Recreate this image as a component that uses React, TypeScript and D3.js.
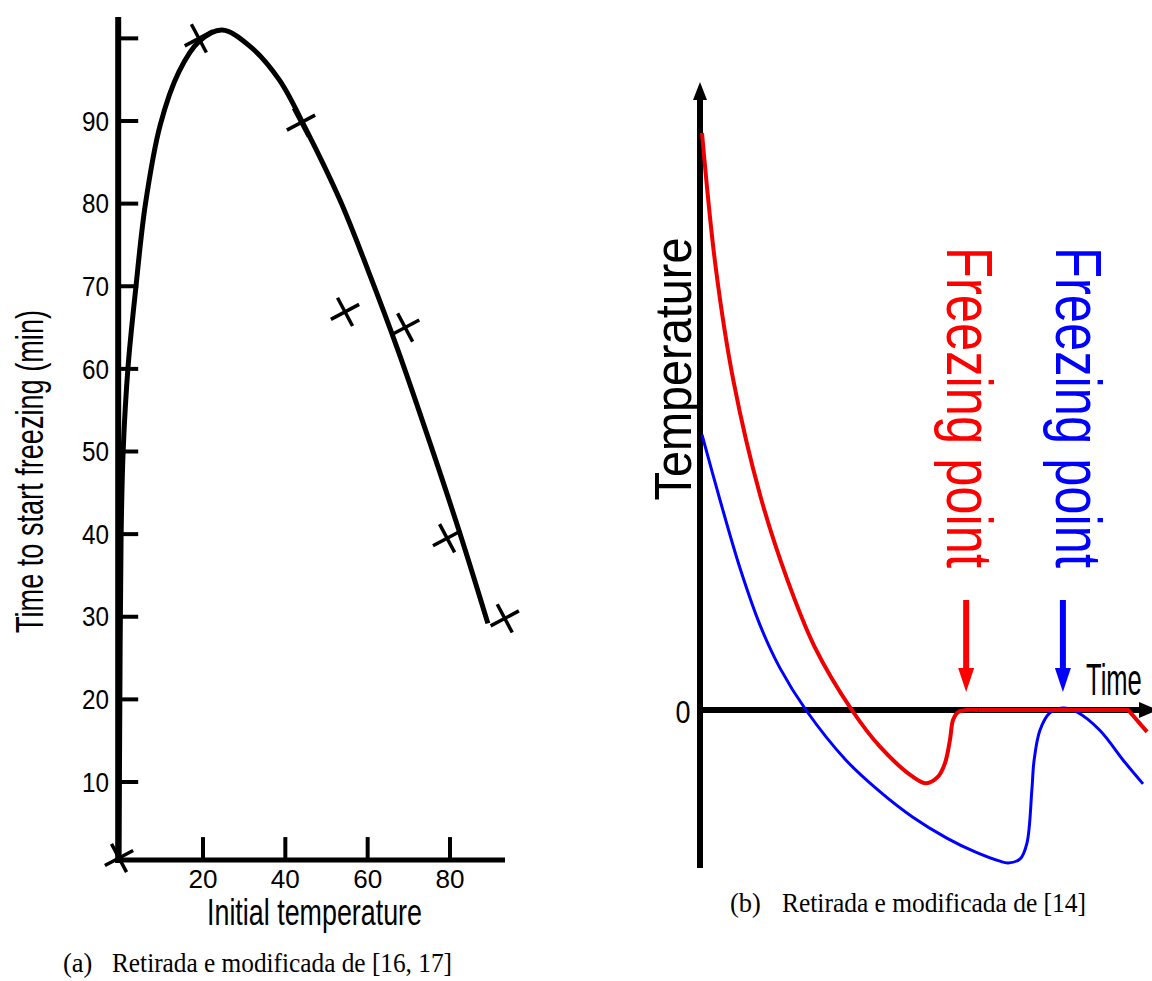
import React from "react";
import * as d3 from "d3";

// ---------- Panel (a) data ----------
const yTicksA = [10, 20, 30, 40, 50, 60, 70, 80, 90, 100];
const yTickLabelsA = ["10", "20", "30", "40", "50", "60", "70", "80", "90", ""];
const xTicksA = [20, 40, 60, 80];
const xTickLabelsA = ["20", "40", "60", "80"];

// fitted curve: initial temperature vs time to start freezing
const fitTemp = [-0.4, -0.2, 0.1, 0.6, 1.8, 3.7, 6.0, 9.6, 14.2, 19.0, 24.6, 31.5, 38.5, 44.75, 53.27, 60.07, 67.35, 75.13, 82.4, 89.2];
const fitTime = [0.6, 20.0, 39.6, 50.0, 60.3, 69.9, 79.9, 89.5, 96.0, 99.6, 101.0, 99.0, 95.0, 89.26, 80.43, 71.96, 62.28, 51.04, 40.1, 29.2];

// observed points (crosses)
const obsTemp = [-0.4, 19.0, 43.8, 54.5, 69.1, 79.3, 93.3];
const obsTime = [0.8, 100.0, 89.8, 66.9, 65.0, 39.5, 29.8];

// ---------- Panel (b) data ----------
const redTime = [0, 3, 7, 13, 19, 25, 33.3, 39.6, 46.9, 49.8, 52.4, 54.0, 55.1, 55.8, 56.9, 58.7, 61.5];
const redTemp = [100, 77, 57, 37, 22.5, 11, 0, -6.4, -11.6, -12.7, -11.6, -9.2, -5.2, -1.7, -0.35, 0, 0];
const redTailTime = [61.5, 94.7, 98.9];
const redTailTemp = [0, 0, -3.8];

const blueTime = [0, 4.0, 8.44, 12.9, 17.3, 23.1, 32.0, 39.6, 46.7, 54.4, 60.7, 66.2, 68.0, 70.7, 72.2, 73.3, 73.8, 75.1, 77.3, 80.2, 83.3, 88.4, 93.6, 98.0];
const blueTemp = [47.7, 36.4, 24.6, 14.7, 7.3, 0, -8.7, -14.2, -18.5, -22.2, -24.6, -26.2, -26.5, -25.8, -23.1, -13.9, -8.7, -3.5, -0.5, 0.35, -0.35, -3.5, -8.7, -12.8];

const freezeTimes = [58.7, 80.2];
const freezeColors = ["#ff0000", "#0000ff"];
const freezeLabels = ["Freezing point", "Freezing point"];
const freezeLabelShift = [-19, -7];

const SANS = "'Liberation Sans', Arial, Helvetica, sans-serif";
const SERIF = "'Liberation Serif', 'Times New Roman', serif";

export default function App() {
  // Panel (a) scales
  const xA = d3.scaleLinear().domain([20, 80]).range([203, 450]);
  const yA = d3.scaleLinear().domain([10, 90]).range([782, 121]);
  const axisX0 = -0.6; // where y axis sits
  const axisY0 = 0.55; // where x axis sits

  const fitPts: [number, number][] = fitTemp.map((t, i) => [t, fitTime[i]]);
  const lineA = d3
    .line<[number, number]>()
    .x((d) => xA(d[0]))
    .y((d) => yA(d[1]))
    .curve(d3.curveCatmullRom.alpha(0.5));

  // Panel (b) scales
  const xB = d3.scaleLinear().domain([0, 100]).range([702, 1152]);
  const yB = d3.scaleLinear().domain([0, 100]).range([710, 133]);
  const lineB = d3
    .line<[number, number]>()
    .x((d) => xB(d[0]))
    .y((d) => yB(d[1]))
    .curve(d3.curveCatmullRom.alpha(0.5));
  const lineBStraight = d3
    .line<[number, number]>()
    .x((d) => xB(d[0]))
    .y((d) => yB(d[1]));
  const redPts: [number, number][] = redTime.map((t, i) => [t, redTemp[i]]);
  const redTail: [number, number][] = redTailTime.map((t, i) => [t, redTailTemp[i]]);
  const bluePts: [number, number][] = blueTime.map((t, i) => [t, blueTemp[i]]);

  const yAxisBX = 700;
  const zeroY = yB(0);

  const crossArm = 16;
  const ang1 = (-28 * Math.PI) / 180;
  const ang2 = (62 * Math.PI) / 180;

  return (
    <svg
      width={1152}
      height={981}
      viewBox="0 0 1152 981"
      style={{ position: "absolute", left: 0, top: 0, background: "#fff" }}
    >
      <rect x={0} y={0} width={1152} height={981} fill="#fff" />

      {/* ================= Panel (a) ================= */}
      <line x1={xA(axisX0)} x2={xA(axisX0)} y1={17} y2={yA(axisY0) + 3} stroke="#000" strokeWidth={6} />
      <line x1={xA(axisX0) - 3} x2={505} y1={yA(axisY0)} y2={yA(axisY0)} stroke="#000" strokeWidth={5} />

      {yTicksA.map((v, i) => (
        <g key={"yt" + v}>
          <line x1={xA(axisX0)} x2={xA(axisX0) + 20} y1={yA(v)} y2={yA(v)} stroke="#000" strokeWidth={4} />
          {yTickLabelsA[i] && (
            <text
              x={109}
              y={yA(v)}
              dy="0.36em"
              textAnchor="end"
              fontFamily={SANS}
              fontSize={27}
              textLength={27}
              lengthAdjust="spacingAndGlyphs"
            >
              {yTickLabelsA[i]}
            </text>
          )}
        </g>
      ))}
      {xTicksA.map((v, i) => (
        <g key={"xt" + v}>
          <line x1={xA(v)} x2={xA(v)} y1={yA(axisY0)} y2={yA(axisY0) - 23} stroke="#000" strokeWidth={4} />
          <text
            x={xA(v)}
            y={888}
            textAnchor="middle"
            fontFamily={SANS}
            fontSize={26}
            textLength={29}
            lengthAdjust="spacingAndGlyphs"
          >
            {xTickLabelsA[i]}
          </text>
        </g>
      ))}

      <path d={lineA(fitPts) || ""} fill="none" stroke="#000" strokeWidth={5} />

      {obsTemp.map((t, i) => {
        const cx = xA(t);
        const cy = yA(obsTime[i]);
        return (
          <g key={"m" + i} stroke="#000" strokeWidth={3.5}>
            <line
              x1={cx - crossArm * Math.cos(ang1)}
              y1={cy - crossArm * Math.sin(ang1)}
              x2={cx + crossArm * Math.cos(ang1)}
              y2={cy + crossArm * Math.sin(ang1)}
            />
            <line
              x1={cx - crossArm * Math.cos(ang2)}
              y1={cy - crossArm * Math.sin(ang2)}
              x2={cx + crossArm * Math.cos(ang2)}
              y2={cy + crossArm * Math.sin(ang2)}
            />
          </g>
        );
      })}

      <text x={207} y={925} fontFamily={SANS} fontSize={37} textLength={215} lengthAdjust="spacingAndGlyphs">
        Initial temperature
      </text>
      <text
        transform="translate(43,471.5) rotate(-90)"
        textAnchor="middle"
        fontFamily={SANS}
        fontSize={39}
        textLength={323}
        lengthAdjust="spacingAndGlyphs"
      >
        Time to start freezing (min)
      </text>

      <text x={63} y={972} fontFamily={SERIF} fontSize={26.5}>
        (a)
      </text>
      <text x={112} y={972} fontFamily={SERIF} fontSize={26.5} textLength={340} lengthAdjust="spacingAndGlyphs">
        Retirada e modificada de [16, 17]
      </text>

      {/* ================= Panel (b) ================= */}
      <line x1={yAxisBX} x2={yAxisBX} y1={868} y2={96} stroke="#000" strokeWidth={6} />
      <path d={`M${yAxisBX},82 L${yAxisBX + 7},100 L${yAxisBX - 7},100 Z`} fill="#000" />
      <line x1={697} x2={1142} y1={zeroY} y2={zeroY} stroke="#000" strokeWidth={6} />
      <path d={`M1158,${zeroY} L1139,${zeroY - 8} L1139,${zeroY + 8} Z`} fill="#000" />

      <path d={lineB(bluePts) || ""} fill="none" stroke="#0000ff" strokeWidth={3} />
      <path d={lineB(redPts) || ""} fill="none" stroke="#ee0000" strokeWidth={4} />
      <path d={lineBStraight(redTail) || ""} fill="none" stroke="#ee0000" strokeWidth={4} />

      {freezeTimes.map((t, i) => {
        const x = xB(t);
        return (
          <g key={"fa" + i}>
            <line x1={x} x2={x} y1={600} y2={672} stroke={freezeColors[i]} strokeWidth={6} />
            <path d={`M${x},692 L${x - 8},668 L${x + 8},668 Z`} fill={freezeColors[i]} />
            <text
              transform={`translate(${x + freezeLabelShift[i]},407.5) rotate(90)`}
              textAnchor="middle"
              fill={freezeColors[i]}
              fontFamily={SANS}
              fontSize={64}
              textLength={321}
              lengthAdjust="spacingAndGlyphs"
            >
              {freezeLabels[i]}
            </text>
          </g>
        );
      })}

      <text
        transform="translate(691,369) rotate(-90)"
        textAnchor="middle"
        fontFamily={SANS}
        fontSize={52}
        textLength={263}
        lengthAdjust="spacingAndGlyphs"
      >
        Temperature
      </text>
      <text x={683} y={723} textAnchor="middle" fontFamily={SANS} fontSize={31} textLength={15} lengthAdjust="spacingAndGlyphs">
        0
      </text>
      <text transform="translate(1086,695) scale(0.58,1)" fontFamily={SANS} fontSize={44}>
        Time
      </text>

      <text x={730} y={912} fontFamily={SERIF} fontSize={26.5}>
        (b)
      </text>
      <text x={782} y={912} fontFamily={SERIF} fontSize={26.5} textLength={304} lengthAdjust="spacingAndGlyphs">
        Retirada e modificada de [14]
      </text>
    </svg>
  );
}
